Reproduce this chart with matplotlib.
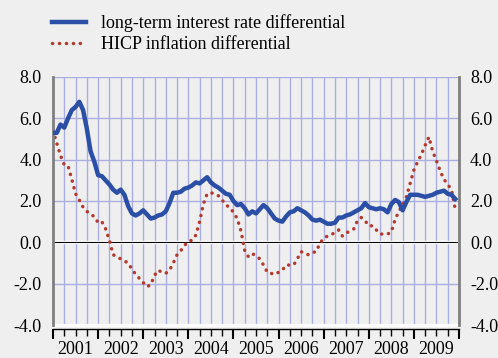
import numpy as np
import matplotlib.pyplot as plt

# monthly series, Jan 2001 - Dec 2009 (percentage points)
years = list(range(2001, 2010))

interest_diff = [
    5.3, 5.3, 5.7, 5.55, 6.0, 6.4, 6.55, 6.8, 6.4, 5.5, 4.4, 3.9,
    3.25, 3.2, 3.0, 2.8, 2.55, 2.4, 2.55, 2.3, 1.75, 1.4, 1.3, 1.4,
    1.55, 1.35, 1.15, 1.2, 1.3, 1.35, 1.5, 1.9, 2.4, 2.4, 2.45, 2.6,
    2.65, 2.75, 2.9, 2.85, 3.0, 3.15, 2.9, 2.75, 2.65, 2.5, 2.35, 2.3,
    2.0, 1.8, 1.85, 1.65, 1.35, 1.5, 1.4, 1.6, 1.8, 1.65, 1.4, 1.15,
    1.05, 1.0, 1.25, 1.45, 1.5, 1.65, 1.55, 1.45, 1.3, 1.1, 1.05, 1.1,
    1.0, 0.9, 0.9, 0.95, 1.2, 1.2, 1.3, 1.35, 1.45, 1.55, 1.65, 1.9,
    1.7, 1.65, 1.6, 1.65, 1.6, 1.45, 1.85, 2.05, 1.95, 1.55, 1.95, 2.3,
    2.3, 2.3, 2.25, 2.2, 2.25, 2.3, 2.4, 2.45, 2.5, 2.35, 2.3, 2.1,
]

hicp_diff = [
    5.4, 4.8, 4.2, 3.75, 3.7, 3.05, 2.35, 2.05, 1.7, 1.5, 1.35, 1.25,
    0.95, 1.0, 0.65, 0.1, -0.6, -0.7, -0.8, -0.9, -1.0, -1.3, -1.55, -1.75,
    -1.95, -2.15, -2.05, -1.6, -1.35, -1.45, -1.5, -1.35, -1.0, -0.6, -0.4, -0.15,
    0.05, 0.1, 0.35, 1.0, 1.85, 2.35, 2.4, 2.35, 2.25, 2.05, 1.8, 1.7,
    1.45, 1.15, 0.55, -0.4, -0.7, -0.55, -0.65, -0.8, -1.1, -1.45, -1.5, -1.55,
    -1.45, -1.35, -1.1, -1.1, -1.1, -0.8, -0.45, -0.55, -0.6, -0.5, -0.45, -0.05,
    0.2, 0.3, 0.35, 0.5, 0.6, 0.3, 0.45, 0.55, 0.65, 1.05, 1.2, 1.05,
    0.8, 0.8, 0.6, 0.4, 0.4, 0.4, 0.5, 1.1, 1.5, 1.8, 2.2, 2.85,
    3.5, 3.9, 4.25, 4.7, 5.1, 4.4, 3.95, 3.45, 3.05, 2.8, 2.55, 1.6,
]

months = np.arange(len(interest_diff))

bg = '#efefef'
blue = '#2b4ea6'
red = '#b53a2e'
gridc = '#a9addf'

plt.rcParams['font.family'] = ['Liberation Serif', 'DejaVu Serif']

fig = plt.figure(figsize=(4.98, 3.58), dpi=100, facecolor=bg)
ax = fig.add_axes([53 / 498, 33 / 358, 406 / 498, 248 / 358], facecolor=bg)

ax.set_xlim(0, 108)
ax.set_ylim(-4, 8)

# quarterly vertical grid, horizontal grid every 2 points
for q in range(1, 36):
    ax.axvline(q * 3, color=gridc, lw=1, zorder=1)
for yv in [-2, 2, 4, 6, 8]:
    ax.axhline(yv, color=gridc, lw=1, zorder=1)
ax.axhline(0, color='white', lw=2.5, zorder=1.5)
ax.axhline(0, color='black', lw=0.8, zorder=1.6)
ax.axhline(-4, color='white', lw=2.5, zorder=1.5, clip_on=False)

ax.plot(months, interest_diff, color=blue, lw=3.2, solid_joinstyle='round',
        label='long-term interest rate differential', zorder=3)
ax.plot(months, hicp_diff, color=red, lw=2.5, linestyle=(0, (0.05, 1.95)),
        dash_capstyle='round', label='HICP inflation differential', zorder=2)

# spines
ax.spines['top'].set_visible(False)
for side in ['left', 'right']:
    ax.spines[side].set_color('#7f7f7f')
    ax.spines[side].set_linewidth(2)
ax.spines['bottom'].set_position(('outward', 3))
ax.spines['bottom'].set_color('black')
ax.spines['bottom'].set_linewidth(1)

# y tick labels on both sides
yt = np.arange(-4, 9, 2)
ax.set_yticks(yt)
ax.set_yticklabels([f'{v:.1f}' for v in yt])
ax.tick_params(axis='y', length=0, labelsize=13, pad=8,
               left=False, right=False, labelleft=True, labelright=False)
ax2 = ax.twinx()
ax2.set_ylim(ax.get_ylim())
ax2.set_yticks(yt)
ax2.set_yticklabels([f'{v:.1f}' for v in yt])
ax2.tick_params(axis='y', length=0, labelsize=13, pad=8)
for s in ax2.spines.values():
    s.set_visible(False)

# x ticks: year boundaries long, quarters short, labels centred on each year
ax.set_xticks(np.arange(0, 109, 12))
ax.set_xticklabels([])
ax.set_xticks(np.arange(0, 108, 3), minor=True)
ax.tick_params(axis='x', which='major', direction='out', length=7, width=1.5, color='black')
ax.tick_params(axis='x', which='minor', direction='out', length=5, width=1, color='black')
for i, yr in enumerate(years):
    ax.text(i * 12 + 6, -4.75, str(yr), ha='center', va='top', fontsize=13,
            clip_on=False)

fig.legend(loc='upper left', bbox_to_anchor=(52 / 498, 1 - 14 / 358),
           frameon=False, fontsize=13, handlelength=1.9, handletextpad=0.8,
           labelspacing=0.25, borderaxespad=0, borderpad=0)

fig.savefig('out.png', dpi=100, facecolor=bg)
